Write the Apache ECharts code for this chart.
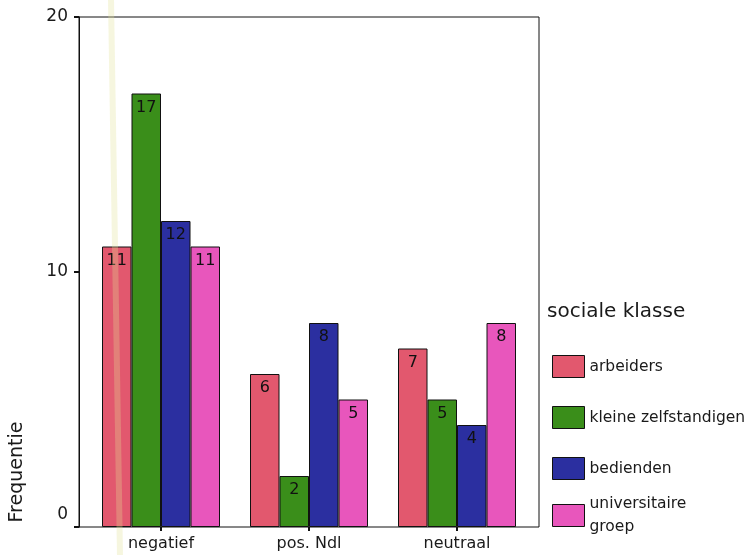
<!DOCTYPE html>
<html>
<head>
<meta charset="utf-8">
<script src="https://cdn.jsdelivr.net/npm/echarts@6/dist/echarts.min.js"></script>
<style>
html,body{margin:0;padding:0;background:#fff;}
#chart{width:750px;height:555px;}
</style>
</head>
<body>
<div id="chart"></div>
<script>
var categories = ['negatief', 'pos. Ndl', 'neutraal'];
var seriesNames = ['arbeiders', 'kleine zelfstandigen', 'bedienden', 'universitaire\ngroep'];
var arbeiders = [11, 6, 7];
var kleineZelfstandigen = [17, 2, 5];
var bedienden = [12, 8, 4];
var universitaireGroep = [11, 5, 8];
var yTicks = [0, 10, 20];
var colors = ['#E2586E', '#3A8E1A', '#2B2FA0', '#E856BC'];

var values = [arbeiders, kleineZelfstandigen, bedienden, universitaireGroep];
var FONT = 'DejaVu Sans';
var chart = echarts.init(document.getElementById('chart'));

var series = seriesNames.map(function (n, i) {
  return {
    name: n,
    type: 'bar',
    xAxisIndex: 1,
    yAxisIndex: 1,
    data: values[i],
    barWidth: 29.5,
    barGap: '0%',
    itemStyle: { color: colors[i], borderColor: '#111', borderWidth: 1 },
    label: {
      show: true, position: 'insideTop', distance: 6,
      color: '#111', fontFamily: FONT, fontSize: 16
    }
  };
});

var legendBase = {
  orient: 'vertical', left: 552, height: 260, padding: 0,
  icon: 'rect', itemWidth: 32, itemHeight: 22, itemGap: 28,
  itemStyle: { borderColor: '#111', borderWidth: 1 },
  textStyle: { fontFamily: FONT, fontSize: 15.5, color: '#1a1a1a' }
};

chart.setOption({
  animation: false,
  backgroundColor: '#fff',
  title: {
    text: 'sociale klasse', left: 542, top: 297,
    textStyle: { fontFamily: FONT, fontSize: 20, fontWeight: 'normal', color: '#1a1a1a' }
  },
  legend: [
    Object.assign({}, legendBase, { top: 355, data: [seriesNames[0], seriesNames[1], seriesNames[2]] }),
    Object.assign({}, legendBase, {
      top: 481,
      data: [{ name: seriesNames[3], textStyle: { lineHeight: 23, padding: [23, 0, 0, 0] } }]
    })
  ],
  grid: [
    { left: 79, top: 17, right: 211, bottom: 28, show: true, borderColor: '#111', borderWidth: 1, backgroundColor: 'transparent' },
    { left: 87, top: 17, width: 444, bottom: 28 }
  ],
  xAxis: [
    { gridIndex: 0, type: 'value', show: false, min: 0, max: 1 },
    {
      gridIndex: 1, type: 'category', data: categories,
      axisLine: { show: false },
      axisTick: { show: true, alignWithLabel: true, length: 4, lineStyle: { color: '#111', width: 2 } },
      axisLabel: { fontFamily: FONT, fontSize: 16, color: '#1a1a1a', margin: 9 }
    }
  ],
  yAxis: [
    {
      gridIndex: 0, type: 'value', min: yTicks[0], max: yTicks[yTicks.length - 1], interval: 10,
      axisLine: { show: true, lineStyle: { color: '#111', width: 1 } },
      axisTick: { show: true, length: 5, lineStyle: { color: '#111', width: 2 } },
      splitLine: { show: false },
      axisLabel: {
        fontFamily: FONT, fontSize: 17, color: '#1a1a1a', margin: 11,
        formatter: function (v) { return v === 0 ? '{z|0}' : '{n|' + v + '}'; },
        rich: {
          n: { fontFamily: FONT, fontSize: 17, color: '#1a1a1a' },
          z: { fontFamily: FONT, fontSize: 17, color: '#1a1a1a', padding: [0, 0, 24, 0] }
        }
      }
    },
    { gridIndex: 1, type: 'value', min: yTicks[0], max: yTicks[yTicks.length - 1], show: false }
  ],
  graphic: [
    {
      type: 'text', x: 17, y: 472, rotation: Math.PI / 2,
      style: { text: 'Frequentie', fontFamily: FONT, fontSize: 19, fill: '#1a1a1a', textAlign: 'center', textVerticalAlign: 'middle' }
    },
    {
      type: 'line', z: 100, silent: true,
      shape: { x1: 111, y1: 0, x2: 120, y2: 555 },
      style: { stroke: 'rgba(225,225,150,0.3)', lineWidth: 6 }
    }
  ],
  series: series
});
</script>
</body>
</html>
